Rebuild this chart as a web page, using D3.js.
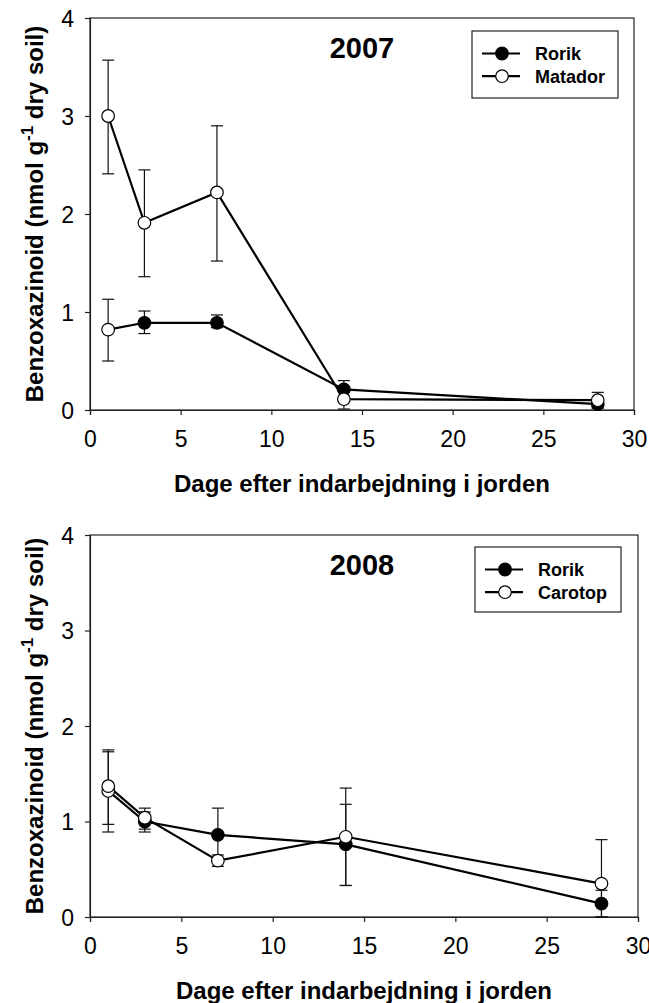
<!DOCTYPE html>
<html><head><meta charset="utf-8">
<script src="https://cdn.jsdelivr.net/npm/d3@7/dist/d3.min.js"></script>
<style>
body{margin:0;background:#fff}
svg{display:block}
text{font-family:"Liberation Sans",Arial,Helvetica,sans-serif;fill:#000}
</style>
</head><body>
<svg id="chart" width="649" height="1003"></svg>
<script>
// ---- data ----
const days = [1, 3, 7, 14, 28];
const xTickValues = [0, 5, 10, 15, 20, 25, 30];
const yTickValues = [0, 1, 2, 3, 4];
const xTitle = "Dage efter indarbejdning i jorden";

const rorik2007    = [0.82, 0.89, 0.89, 0.21, 0.06];
const rorik2007Lo  = [0.50, 0.78, 0.84, 0.12, 0.02];
const rorik2007Hi  = [1.13, 1.01, 0.97, 0.30, 0.10];
const matador2007   = [3.00, 1.91, 2.22, 0.11, 0.10];
const matador2007Lo = [2.41, 1.36, 1.52, 0.01, 0.02];
const matador2007Hi = [3.57, 2.45, 2.90, 0.20, 0.18];

const rorik2008    = [1.32, 1.00, 0.86, 0.76, 0.14];
const rorik2008Lo  = [0.89, 0.89, 0.59, 0.33, 0.00];
const rorik2008Hi  = [1.73, 1.10, 1.14, 1.18, 0.28];
const carotop2008   = [1.37, 1.04, 0.59, 0.84, 0.35];
const carotop2008Lo = [0.97, 0.92, 0.53, 0.33, 0.00];
const carotop2008Hi = [1.75, 1.14, 0.65, 1.35, 0.81];

// ---- layout ----
const panels = [
  {year: "2007", left: 90, right: 634, top: 18, bottom: 410,
   legend: {x: 472, y: 31, w: 146, h: 67},
   series: [
     {name: "Rorik", v: rorik2007, lo: rorik2007Lo, hi: rorik2007Hi, filled: true},
     {name: "Matador", v: matador2007, lo: matador2007Lo, hi: matador2007Hi, filled: false}
   ]},
  {year: "2008", left: 90, right: 638, top: 535, bottom: 917,
   legend: {x: 475, y: 547, w: 146, h: 65},
   series: [
     {name: "Rorik", v: rorik2008, lo: rorik2008Lo, hi: rorik2008Hi, filled: true},
     {name: "Carotop", v: carotop2008, lo: carotop2008Lo, hi: carotop2008Hi, filled: false}
   ]}
];

const svg = d3.select("#chart");
const R = 6.3;

panels.forEach(p => {
  const x = d3.scaleLinear().domain([0, 30]).range([p.left, p.right]);
  const y = d3.scaleLinear().domain([0, 4]).range([p.bottom, p.top]);
  const g = svg.append("g");

  // frame
  g.append("rect").attr("x", p.left).attr("y", p.top)
    .attr("width", p.right - p.left).attr("height", p.bottom - p.top)
    .attr("fill", "none").attr("stroke", "#222").attr("stroke-width", 1.2);

  // axes
  const xa = g.append("g").attr("transform", `translate(0,${p.bottom})`)
    .call(d3.axisBottom(x).tickValues(xTickValues).tickSize(5).tickPadding(10).tickFormat(d3.format("d")));
  const ya = g.append("g").attr("transform", `translate(${p.left},0)`)
    .call(d3.axisLeft(y).tickValues(yTickValues).tickSize(5).tickPadding(11).tickFormat(d3.format("d")));
  [xa, ya].forEach(a => {
    a.select(".domain").attr("stroke", "#222").attr("stroke-width", 1.2);
    a.selectAll(".tick line").attr("stroke", "#222").attr("stroke-width", 1.2);
    a.selectAll("text").style("font-family", '"Liberation Sans",Arial,sans-serif')
      .style("font-size", "23px").attr("fill", "#000");
  });
  xa.selectAll("text").attr("dy", "0.95em");
  ya.selectAll("text").attr("dy", "0.36em");

  // axis titles
  svg.append("text").attr("x", (p.left + p.right) / 2).attr("y", p.bottom + 82)
    .attr("text-anchor", "middle").style("font-size", "24px").style("font-weight", "bold")
    .text(xTitle);
  const yt = svg.append("text")
    .attr("transform", `translate(43,${(p.top + p.bottom) / 2}) rotate(-90)`)
    .attr("text-anchor", "middle").style("font-size", "24px").style("font-weight", "bold");
  yt.append("tspan").text("Benzoxazinoid (nmol g");
  yt.append("tspan").attr("dy", -10).style("font-size", "17px").text("-1");
  yt.append("tspan").attr("dy", 10).text(" dry soil)");

  // year title
  svg.append("text").attr("x", 362).attr("y", p.top + 40)
    .attr("text-anchor", "middle").style("font-size", "29px").style("font-weight", "bold")
    .text(p.year);

  // error bars
  p.series.forEach(s => {
    const eb = g.append("g").attr("stroke", "#111").attr("stroke-width", 1.2);
    days.forEach((d, i) => {
      const cx = x(d);
      eb.append("line").attr("x1", cx).attr("x2", cx).attr("y1", y(s.lo[i])).attr("y2", y(s.hi[i]));
      [s.lo[i], s.hi[i]].forEach(val => {
        eb.append("line").attr("x1", cx - 6).attr("x2", cx + 6).attr("y1", y(val)).attr("y2", y(val));
      });
    });
  });

  // lines
  const line = d3.line().x((d, i) => x(days[i])).y(d => y(d));
  p.series.forEach(s => {
    g.append("path").datum(s.v).attr("d", line)
      .attr("fill", "none").attr("stroke", "#000").attr("stroke-width", 2.2);
  });

  // markers (first Rorik marker appears open in the original figure)
  p.series.forEach(s => {
    g.selectAll(null).data(s.v).enter().append("circle")
      .attr("cx", (d, i) => x(days[i])).attr("cy", d => y(d)).attr("r", R)
      .attr("fill", (d, i) => (s.filled && i > 0) ? "#000" : "#fff")
      .attr("stroke", "#000").attr("stroke-width", 1.2);
  });

  // legend
  const L = p.legend;
  const lg = svg.append("g");
  lg.append("rect").attr("x", L.x).attr("y", L.y).attr("width", L.w).attr("height", L.h)
    .attr("fill", "#fff").attr("stroke", "#222").attr("stroke-width", 1.2);
  p.series.forEach((s, k) => {
    const cy = L.y + 22.5 + k * 22.7;
    lg.append("line").attr("x1", L.x + 10).attr("x2", L.x + 48).attr("y1", cy).attr("y2", cy)
      .attr("stroke", "#000").attr("stroke-width", 2.2);
    lg.append("circle").attr("cx", L.x + 30).attr("cy", cy).attr("r", R)
      .attr("fill", s.filled ? "#000" : "#fff").attr("stroke", "#000").attr("stroke-width", 1.2);
    lg.append("text").attr("x", L.x + 63).attr("y", cy + 6.5)
      .style("font-size", "18px").style("font-weight", "bold").text(s.name);
  });
});
</script>
</body></html>
